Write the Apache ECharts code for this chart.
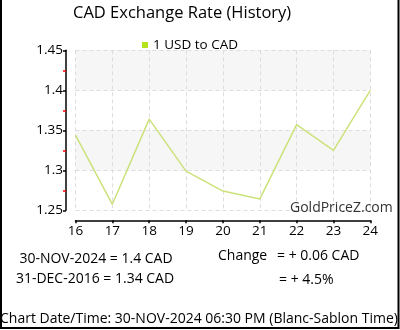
<!DOCTYPE html>
<html>
<head>
<meta charset="utf-8">
<script src="https://cdn.jsdelivr.net/npm/echarts@6/dist/echarts.min.js"></script>
<style>
  html, body { margin: 0; padding: 0; background: #fff; }
  #chart { width: 400px; height: 330px; }
</style>
</head>
<body>
<div id="chart"></div>
<script>
// Yearly USD→CAD rate, 2016 … 2024 (x axis shows the two-digit year)
const years = [16, 17, 18, 19, 20, 21, 22, 23, 24];
const usdToCad = [1.344, 1.2575, 1.364, 1.299, 1.274, 1.264, 1.357, 1.325, 1.40];
const yTicks = [1.25, 1.30, 1.35, 1.40, 1.45];
const seriesName = '1 USD to CAD';
const startDate = '31-DEC-2016';
const endDate = '30-NOV-2024';
const chartStamp = 'Chart Date/Time: 30-NOV-2024 06:30 PM (Blanc-Sablon Time)';

const FONT = 'Open Sans';

// Summary numbers derived from the first / last points
const firstVal = Number(usdToCad[0].toFixed(2));
const lastVal = Number(usdToCad[usdToCad.length - 1].toFixed(2));
const diff = lastVal - firstVal;
const pct = diff / firstVal * 100;
const sign = v => (v >= 0 ? '+ ' : '- ');
const fmtVal = v => String(Number(v.toFixed(2)));

const chart = echarts.init(document.getElementById('chart'), null, { renderer: 'canvas' });

chart.setOption({
  animation: false,
  backgroundColor: '#ffffff',
  title: {
    text: 'CAD Exchange Rate (History)',
    left: 73, top: 5, padding: 0,
    textStyle: { fontFamily: FONT, fontSize: 16.5, fontWeight: 'normal', color: '#000' }
  },
  legend: {
    top: 33, left: 137,
    icon: 'rect', itemWidth: 6, itemHeight: 6, itemGap: 6,
    textStyle: { fontFamily: FONT, fontSize: 13.5, color: '#000' },
    data: [{ name: seriesName, itemStyle: { color: '#b4e31e' } }]
  },
  grid: { left: 75.5, right: 29.7, top: 50.3, bottom: 119.7, containLabel: false },
  xAxis: {
    type: 'value', min: years[0], max: years[years.length - 1], interval: 1,
    offset: 10,
    axisLine: { show: true, onZero: false, lineStyle: { color: '#000', width: 1.5 } },
    axisTick: { show: true, length: 3, lineStyle: { color: '#000', width: 1.5 } },
    axisLabel: { fontFamily: FONT, fontSize: 13.5, color: '#000', margin: 4 },
    splitLine: { show: true, lineStyle: { color: '#dddddd', type: [4, 3] } }
  },
  yAxis: {
    type: 'value', min: yTicks[0], max: yTicks[yTicks.length - 1], interval: 0.05,
    offset: 9.5,
    axisLine: { show: true, lineStyle: { color: '#000', width: 1.5 } },
    axisTick: { show: true, length: 3, lineStyle: { color: '#000', width: 1.5 } },
    minorTick: { show: true, splitNumber: 2, length: 3, lineStyle: { color: '#ff0000', width: 1.5 } },
    axisLabel: { fontFamily: FONT, fontSize: 13.5, color: '#000', margin: 3,
                 formatter: v => String(Number(v.toFixed(2))) },
    splitLine: { show: true, lineStyle: { color: '#dddddd', type: [4, 3] } },
    splitArea: { show: true, areaStyle: { color: ['#ffffff', '#f6f6f6'] } }
  },
  series: [{
    name: seriesName,
    type: 'line',
    data: years.map((y, i) => [y, usdToCad[i]]),
    showSymbol: false,
    lineStyle: { color: '#cbe27a', width: 1.5 },
    itemStyle: { color: '#b4e31e' }
  }],
  graphic: [
    { type: 'text', left: 290, top: 201, z: 10,
      style: { text: 'GoldPriceZ.com', font: '14px ' + FONT, fill: '#333' } },
    { type: 'text', x: 96, y: 259, z: 10,
      style: { text: endDate + ' = ' + fmtVal(lastVal) + ' CAD', font: '14px ' + FONT,
               fill: '#000', align: 'center', verticalAlign: 'middle' } },
    { type: 'text', x: 95, y: 279, z: 10,
      style: { text: startDate + ' = ' + fmtVal(firstVal) + ' CAD', font: '14px ' + FONT,
               fill: '#000', align: 'center', verticalAlign: 'middle' } },
    { type: 'text', x: 218, y: 256, z: 10,
      style: { text: 'Change', font: '14px ' + FONT, fill: '#000', verticalAlign: 'middle' } },
    { type: 'text', x: 277, y: 256, z: 10,
      style: { text: '= ' + sign(diff) + Math.abs(diff).toFixed(2) + ' CAD', font: '14px ' + FONT,
               fill: '#000', verticalAlign: 'middle' } },
    { type: 'text', x: 279, y: 280, z: 10,
      style: { text: '= ' + sign(pct) + Math.abs(pct).toFixed(1) + '%', font: '14px ' + FONT,
               fill: '#000', verticalAlign: 'middle' } },
    { type: 'text', x: 0, y: 319, z: 10,
      style: { text: chartStamp, font: '14px ' + FONT, fill: '#000', verticalAlign: 'middle' } },
    // frame: left, right and bottom edges
    { type: 'polyline', z: 20, silent: true,
      shape: { points: [[1, 0], [1, 328], [398.5, 328], [398.5, 0]] },
      style: { stroke: '#000', lineWidth: 2, fill: null } }
  ]
});
</script>
</body>
</html>
